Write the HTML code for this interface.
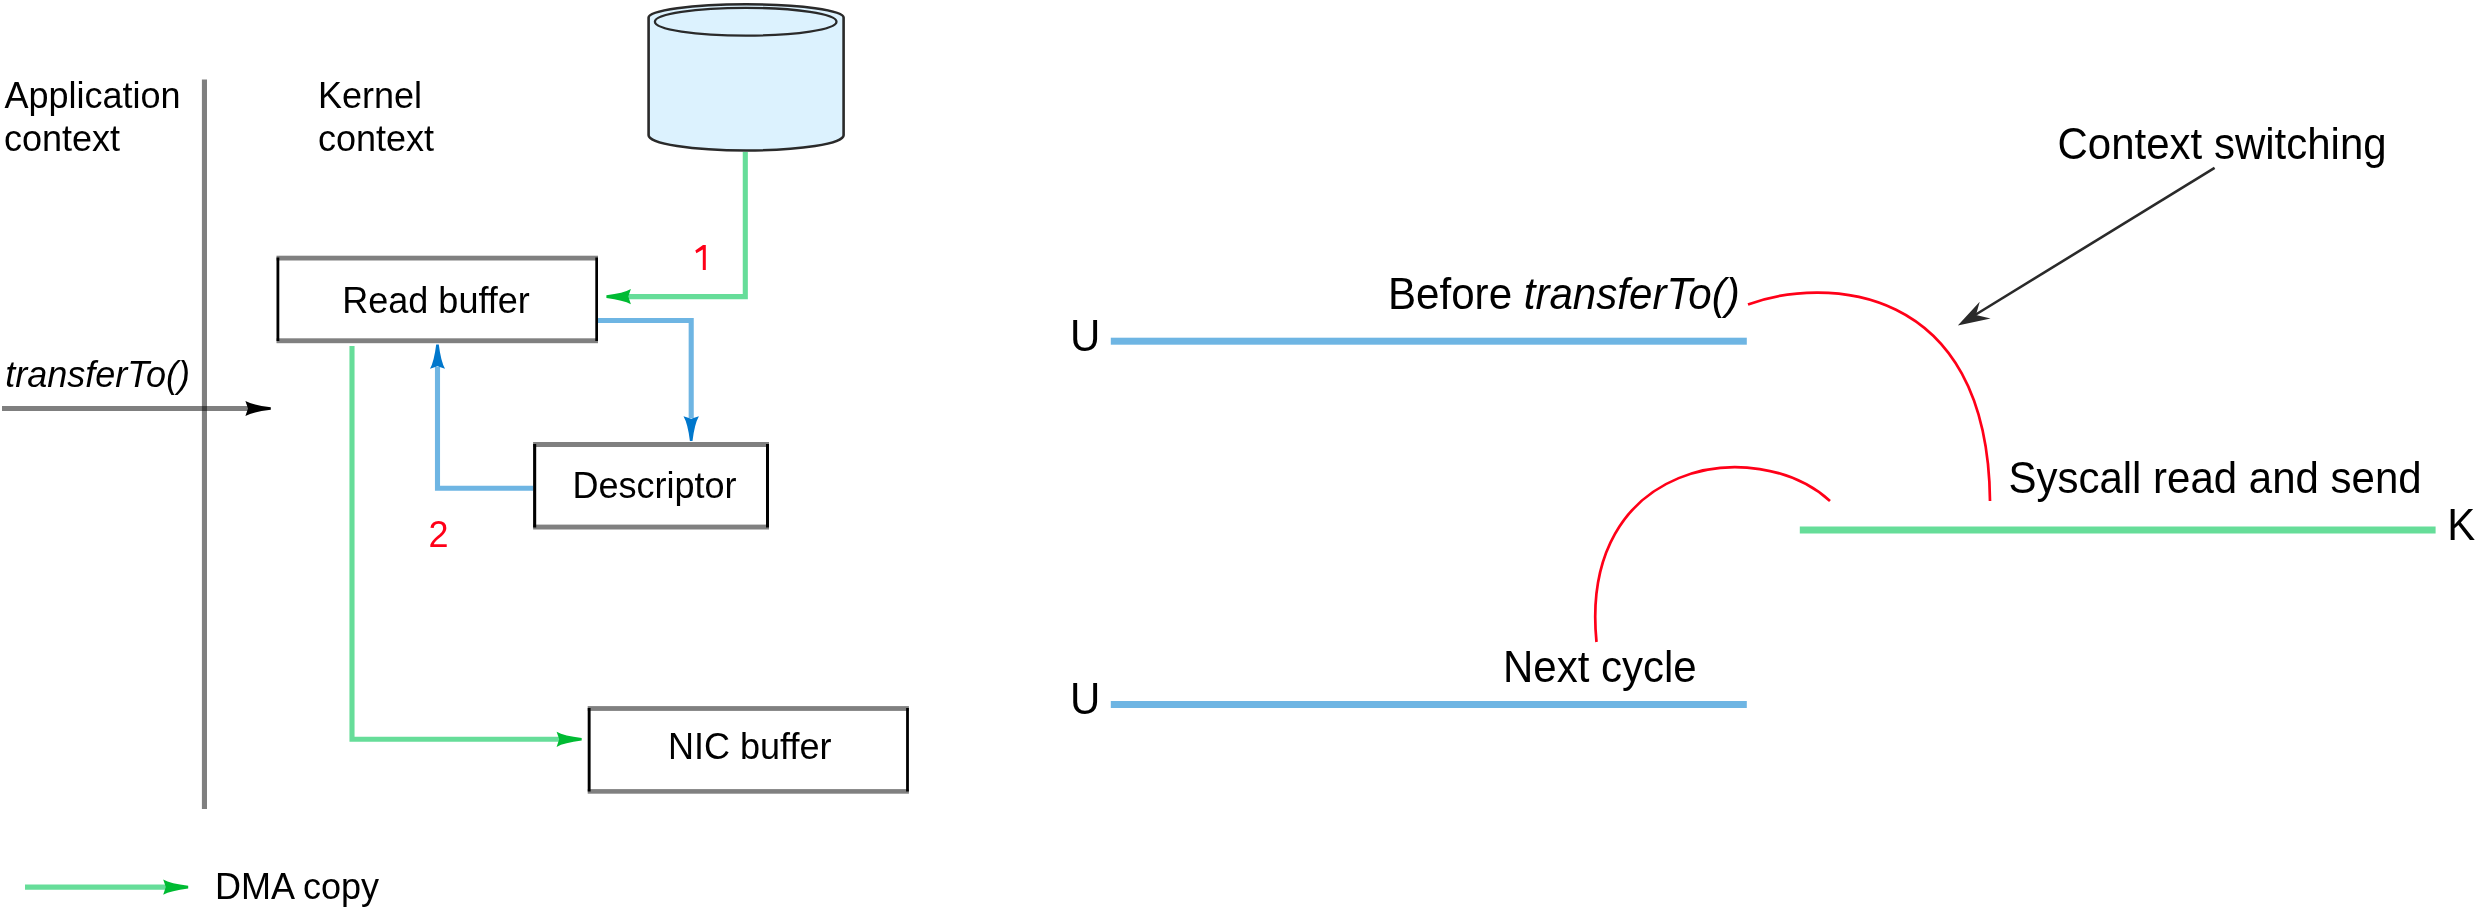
<!DOCTYPE html>
<html><head><meta charset="utf-8">
<style>
html,body{margin:0;padding:0;background:#fff;}
body{width:2476px;height:908px;overflow:hidden;}
svg{display:block;will-change:transform;}
text{font-family:"Liberation Sans",sans-serif;fill:#000;}
</style></head>
<body>
<svg width="2476" height="908" viewBox="0 0 2476 908">
<rect x="0" y="0" width="2476" height="908" fill="#fff"/>
<!-- LEFT DIAGRAM -->
<g font-size="36">
<text x="4.5" y="107.8">Application</text>
<text x="4" y="151.3">context</text>
<text x="318" y="107.8">Kernel</text>
<text x="318" y="151.3">context</text>
<text x="342.3" y="312.5">Read buffer</text>
<text x="572.5" y="498.1">Descriptor</text>
<text x="668" y="759">NIC buffer</text>
<text x="5.3" y="387" font-style="italic">transferTo()</text>
<text x="215" y="899">DMA copy</text>
<text x="428.4" y="546.6" style="fill:#ff0018">2</text>
</g>
<path d="M702.8 270 L702.8 249.4 L696.4 253.3 L695.3 250.4 L703 245 L705.8 245 L705.8 270 Z" fill="#ff0018"/>
<!-- vertical divider -->
<rect x="201.9" y="79.5" width="5.1" height="729.5" fill="#000" fill-opacity="0.5"/>
<!-- transferTo arrow -->
<rect x="2" y="406" width="246" height="5" fill="#000" fill-opacity="0.5"/>
<path d="M270.8 409.8 Q253.0 411.9 245.4 415.9 L248.0 408.5 L245.4 401.1 Q253.0 405.1 270.8 407.2 Z" fill="#000"/>
<!-- Read buffer box -->
<g fill="#808080">
<rect x="276.5" y="255.7" width="321.5" height="4.8"/>
<rect x="276.5" y="338.3" width="321.5" height="4.9"/>
<rect x="533.1" y="442" width="235.9" height="5"/>
<rect x="533.1" y="524.6" width="235.9" height="4.9"/>
<rect x="587.7" y="706.1" width="321.2" height="4.8"/>
<rect x="587.7" y="789.1" width="321.2" height="4.6"/>
</g>
<g fill="#000">
<rect x="276.5" y="257.5" width="2.8" height="83.5"/>
<rect x="595.3" y="257.5" width="2.7" height="83.5"/>
<rect x="533.1" y="444" width="3.1" height="83.5"/>
<rect x="766" y="444" width="3" height="83.5"/>
<rect x="587.7" y="708" width="2.9" height="83.5"/>
<rect x="906.1" y="708" width="2.8" height="83.5"/>
</g>
<!-- cylinder -->
<g stroke="#2a2a2a" stroke-width="2.6" fill="#dcf2fe">
<path d="M648.6 17.5 L648.6 135.3 A97.5 15.2 0 0 0 843.6 135.3 L843.6 17.5 A97.5 13.2 0 0 0 648.6 17.5 Z"/>
<ellipse cx="745.7" cy="21.7" rx="90.8" ry="13.9" stroke-width="2.3"/>
</g>
<!-- green DMA lines -->
<g stroke="#66dd99" stroke-width="5.1" fill="none">
<path d="M745.3 152 L745.3 296.6 L628 296.6"/>
<path d="M352 346 L352 739.3 L560 739.3"/>
<path d="M25 887.1 L166 887.1"/>
</g>
<g fill="#00bb33">
<path d="M606.4 295.3 Q623.5 293.2 630.9 289.0 L628.3 296.6 L630.9 304.2 Q623.5 300.0 606.4 297.9 Z"/>
<path d="M581.7 740.6 Q564.1 742.7 556.6 746.9 L559.2 739.3 L556.6 731.7 Q564.1 735.9 581.7 738.0 Z"/>
<path d="M188.2 888.4 Q170.7 890.5 163.2 894.7 L165.8 887.1 L163.2 879.5 Q170.7 883.7 188.2 885.8 Z"/>
</g>
<!-- blue lines -->
<g stroke="#6eb5e3" stroke-width="5.1" fill="none">
<path d="M598 320.5 L691.2 320.5 L691.2 418"/>
<path d="M533 488.3 L437.5 488.3 L437.5 367"/>
</g>
<g fill="#0077cc">
<path d="M689.9 440.9 Q687.8 423.6 683.5 416.2 L691.2 418.8 L698.9 416.2 Q694.6 423.6 692.5 440.9 Z"/>
<path d="M438.8 344.5 Q440.9 361.5 445.0 368.8 L437.5 366.2 L430.0 368.8 Q434.1 361.5 436.2 344.5 Z"/>
</g>
<!-- RIGHT DIAGRAM -->
<g font-size="44.2">
<text x="2057.5" y="159.3" textLength="329.15" lengthAdjust="spacingAndGlyphs">Context switching</text>
<text x="1388" y="309.2" textLength="351.8" lengthAdjust="spacingAndGlyphs">Before <tspan font-style="italic">transferTo()</tspan></text>
<text x="1070" y="350.7" textLength="30.33" lengthAdjust="spacingAndGlyphs">U</text>
<text x="2008.4" y="493.2" textLength="413.25" lengthAdjust="spacingAndGlyphs">Syscall read and send</text>
<text x="2447.3" y="540" textLength="28.01" lengthAdjust="spacingAndGlyphs">K</text>
<text x="1503" y="682.3" textLength="193.72" lengthAdjust="spacingAndGlyphs">Next cycle</text>
<text x="1070" y="714.2" textLength="30.33" lengthAdjust="spacingAndGlyphs">U</text>
</g>
<path d="M2214.6 167.9 L1975 315" stroke="#2a2a2a" stroke-width="2.6" fill="none"/>
<path d="M1957.8 325.6 L1979.7 301.8 L1976 315 L1990.6 318.6 Z" fill="#2a2a2a"/>
<g fill="#6eb5e3">
<rect x="1110.8" y="337.7" width="636" height="7"/>
<rect x="1110.8" y="701" width="636" height="7"/>
</g>
<rect x="1799.8" y="526.5" width="635.8" height="7" fill="#66dd99"/>
<g stroke="#ff0018" stroke-width="2.7" fill="none">
<path d="M1748 304.5 C1822 277 1988 280.3 1990 501"/>
<path d="M1830 501 C1755.7 433.6 1578.6 460.4 1596.5 642"/>
</g>
</svg>
</body></html>
